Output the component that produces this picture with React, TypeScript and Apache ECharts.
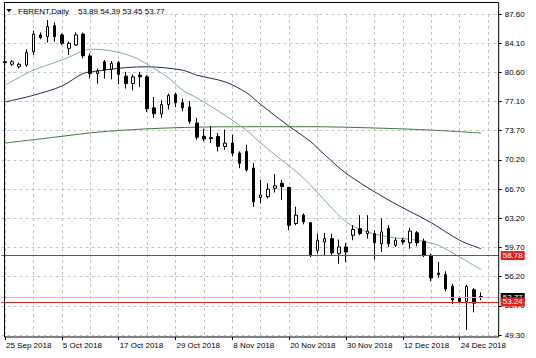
import React, { useEffect, useRef } from "react";
import * as echarts from "echarts";

const dates = [
  "25 Sep 2018", "26 Sep 2018", "27 Sep 2018", "28 Sep 2018", "1 Oct 2018", "2 Oct 2018", "3 Oct 2018", "4 Oct 2018",
  "5 Oct 2018", "8 Oct 2018", "9 Oct 2018", "10 Oct 2018", "11 Oct 2018", "12 Oct 2018", "15 Oct 2018", "16 Oct 2018",
  "17 Oct 2018", "18 Oct 2018", "19 Oct 2018", "22 Oct 2018", "23 Oct 2018", "24 Oct 2018", "25 Oct 2018", "26 Oct 2018",
  "29 Oct 2018", "30 Oct 2018", "31 Oct 2018", "1 Nov 2018", "2 Nov 2018", "5 Nov 2018", "6 Nov 2018", "7 Nov 2018",
  "8 Nov 2018", "9 Nov 2018", "12 Nov 2018", "13 Nov 2018", "14 Nov 2018", "15 Nov 2018", "16 Nov 2018", "19 Nov 2018",
  "20 Nov 2018", "21 Nov 2018", "22 Nov 2018", "23 Nov 2018", "26 Nov 2018", "27 Nov 2018", "28 Nov 2018", "29 Nov 2018",
  "30 Nov 2018", "3 Dec 2018", "4 Dec 2018", "5 Dec 2018", "6 Dec 2018", "7 Dec 2018", "10 Dec 2018", "11 Dec 2018",
  "12 Dec 2018", "13 Dec 2018", "14 Dec 2018", "17 Dec 2018", "18 Dec 2018", "19 Dec 2018", "20 Dec 2018", "21 Dec 2018",
  "24 Dec 2018", "26 Dec 2018", "27 Dec 2018", "28 Dec 2018",
];

const opens = [
  81.9, 81.6, 81.3, 81.5, 83.1, 85.1, 84.9, 86.2, 85.1, 83.5, 83.9, 85.2, 82.6, 80.5, 81.9, 81.0,
  81.8, 80.2, 79.3, 80.3, 80.1, 76.4, 75.7, 76.8, 78.0, 77.0, 76.5, 74.6, 73.0, 72.85, 73.0, 71.8,
  72.2, 71.0, 71.2, 69.2, 65.7, 65.8, 66.8, 67.4, 66.9, 62.6, 63.6, 62.7, 59.4, 60.4, 60.8, 59.0,
  59.8, 61.2, 62.0, 61.4, 61.4, 60.2, 62.0, 60.0, 60.6, 60.3, 61.5, 60.5, 58.8, 56.7, 56.5, 55.1,
  53.7, 53.3, 54.7, 53.89,
];
const highs = [
  82.3, 82.1, 81.8, 83.4, 85.6, 85.4, 86.9, 86.6, 85.3, 84.3, 85.4, 85.4, 82.9, 81.1, 82.1, 82.0,
  82.0, 80.7, 80.4, 80.7, 80.3, 77.7, 77.3, 78.1, 78.2, 77.5, 77.2, 75.2, 73.9, 74.2, 73.4, 73.8,
  73.2, 71.2, 72.0, 69.8, 67.8, 67.4, 68.5, 67.8, 67.0, 64.6, 63.8, 62.8, 61.4, 61.5, 61.4, 60.7,
  60.3, 62.4, 63.6, 63.6, 61.8, 63.2, 62.4, 60.9, 60.9, 62.1, 61.7, 60.8, 59.0, 58.0, 56.9, 55.4,
  53.9, 55.3, 54.9, 54.39,
];
const lows = [
  81.4, 81.4, 81.1, 81.3, 82.7, 84.6, 84.2, 84.3, 83.9, 82.7, 83.8, 82.3, 79.9, 79.3, 79.9, 79.8,
  79.2, 78.7, 78.5, 78.9, 75.9, 75.2, 75.2, 76.2, 76.5, 76.0, 74.5, 72.6, 72.4, 72.2, 71.2, 71.4,
  70.6, 69.2, 68.8, 64.6, 65.0, 65.6, 66.3, 65.4, 61.8, 62.4, 62.5, 58.6, 59.0, 58.8, 58.8, 57.8,
  58.0, 60.6, 61.2, 60.8, 58.3, 59.2, 59.8, 59.8, 60.1, 59.6, 59.9, 58.6, 55.7, 56.1, 54.5, 53.0,
  53.1, 49.9, 52.0, 53.45,
];
const closes = [
  81.8, 81.9, 81.6, 83.0, 85.2, 84.8, 86.1, 84.9, 84.1, 84.1, 85.1, 82.6, 80.5, 80.8, 80.9, 81.7,
  80.4, 79.3, 80.1, 80.1, 76.3, 75.7, 76.8, 77.9, 77.0, 76.4, 74.8, 72.9, 72.7, 72.75, 71.8, 72.2,
  71.0, 69.8, 69.0, 65.2, 66.0, 66.7, 67.1, 67.0, 62.4, 63.6, 62.8, 58.8, 60.6, 60.8, 59.1, 59.8,
  59.2, 61.9, 61.4, 61.7, 60.3, 61.6, 60.2, 60.6, 60.4, 61.7, 60.3, 58.8, 56.1, 56.5, 54.8, 53.5,
  53.3, 55.1, 53.1, 53.77,
];

// moving averages at selected bars
const fastMaBars = [0, 4, 8, 11, 12, 15, 18, 20, 23, 25, 27, 31, 34, 36, 38, 41, 43, 48, 51, 54, 58, 61, 64, 67];
const fastMaValues = [79.1, 80.9, 82.1, 83.2, 83.4, 83.2, 82.5, 81.6, 80.0, 78.5, 77.6, 75.5, 73.7, 72.2, 70.8, 68.8, 67.2, 62.8, 61.6, 61.0, 60.6, 60.0, 58.6, 57.1];
const slowMaBars = [0, 4, 8, 11, 13, 17, 20, 25, 27, 31, 34, 36, 40, 43, 44, 48, 54, 60, 64, 67];
const slowMaValues = [77.1, 77.9, 79.0, 80.5, 80.8, 81.2, 81.3, 80.9, 80.3, 79.5, 78.2, 76.8, 74.2, 72.4, 71.6, 68.6, 65.4, 62.7, 60.6, 59.6];
const trendMaBars = [0, 7, 13, 20, 27, 34, 43, 52, 60, 67];
const trendMaValues = [72.2, 72.9, 73.5, 73.9, 74.1, 74.15, 74.15, 74.0, 73.75, 73.4];

const yTickLabels = ["49.30", "52.70", "56.20", "59.70", "63.20", "66.70", "70.20", "73.70", "77.10", "80.60", "84.10", "87.60"];
const yMin = 49.3;
const yMax = 87.6;

const levelLines = [58.78, 53.24];
const bidPrice = 53.77;
const symbolName = "FBRENT,Daily";
const rightShiftBars = 2;

const FONT = '"Liberation Sans", Arial, sans-serif';

export default function App() {
  const ref = useRef<HTMLDivElement>(null);

  useEffect(() => {
    const chart = echarts.init(ref.current!, null, { renderer: "svg" });
    const cats = [...dates, ...Array(rightShiftBars).fill("")];
    const fineCats: string[] = [];
    for (let j = 0; j <= 2 * cats.length; j++) fineCats.push(j % 2 === 1 ? cats[(j - 1) / 2] : "");
    const sparse = (bars: number[], vals: number[]) => {
      const arr: (number | null)[] = new Array(cats.length).fill(null);
      bars.forEach((b, i) => (arr[b] = vals[i]));
      return arr;
    };
    const empty = new Array(cats.length).fill(null);
    const step = (yMax - yMin) / (yTickLabels.length - 1);
    const last = dates.length - 1;
    const ohlcText = [opens[last], highs[last], lows[last], closes[last]].map((v) => v.toFixed(2)).join(" ");
    const nBars = dates.length;

    const maLine = (data: (number | null)[], color: string) => ({
      type: "line",
      data,
      connectNulls: true,
      smooth: 0.3,
      symbol: "none",
      silent: true,
      lineStyle: { color, width: 1 },
      z: 1,
    });

    const priceLine = (values: number[], lineColor: string, boxColor: string, z: number) => ({
      type: "line",
      data: empty,
      symbol: "none",
      silent: true,
      z,
      lineStyle: { width: 0 },
      markLine: {
        silent: true,
        symbol: ["none", "none"],
        animation: false,
        lineStyle: { color: lineColor, type: "solid", width: 1 },
        label: {
          show: true,
          position: "end",
          distance: 2,
          fontSize: 8,
          fontFamily: FONT,
          color: "#fff",
          backgroundColor: boxColor,
          padding: [1, 2, 0, 2],
          formatter: (p: any) => Number(p.value).toFixed(2),
        },
        data: values.map((v) => ({ yAxis: v })),
      },
    });

    chart.setOption({
      animation: false,
      backgroundColor: "#ffffff",
      textStyle: { fontFamily: FONT },
      grid: { left: 1.45, right: 37.3, top: 14, bottom: 23 },
      xAxis: [
        {
          type: "category",
          data: cats,
          boundaryGap: true,
          axisLine: { show: false },
          axisTick: { show: false },
          axisLabel: { show: false },
          splitLine: { show: false },
        },
        {
          type: "category",
          data: fineCats,
          boundaryGap: false,
          position: "bottom",
          offset: 2,
          axisLine: { show: false },
          axisTick: {
            show: true,
            interval: (j: number) => j % 16 === 1 && (j - 1) / 2 < nBars,
            length: 3,
            lineStyle: { color: "#000" },
          },
          axisLabel: {
            interval: (j: number) => j % 16 === 1 && (j - 1) / 2 < nBars,
            align: "left",
            fontSize: 8,
            fontFamily: FONT,
            color: "#000",
            margin: 4,
            padding: [0, 0, 0, 1],
          },
          splitLine: {
            show: true,
            interval: (j: number) => j % 8 === 1,
            lineStyle: { color: "#c4c4c4", type: [3, 3], width: 1 },
          },
        },
      ],
      yAxis: {
        type: "value",
        position: "right",
        min: yMin,
        max: yMax,
        interval: step,
        axisLine: { show: false },
        axisTick: { show: true, length: 3, lineStyle: { color: "#000" } },
        axisLabel: {
          margin: 6,
          fontSize: 8,
          fontFamily: FONT,
          color: "#000",
          formatter: (v: number) => yTickLabels[Math.round((v - yMin) / step)] ?? "",
        },
        splitLine: { show: true, lineStyle: { color: "#c4c4c4", type: [3, 3], width: 1 } },
      },
      graphic: [
        {
          type: "rect",
          shape: { x: 4.5, y: 2.5, width: 494.2, height: 334.5 },
          style: { fill: "none", stroke: "#000", lineWidth: 1 },
          silent: true,
          z: 10,
        },
        {
          type: "polygon",
          shape: { points: [[6.5, 9], [11.5, 9], [9, 12.5]] },
          style: { fill: "#000" },
          silent: true,
        },
        {
          type: "text",
          x: 18,
          y: 11,
          style: { text: symbolName, fontSize: 8, fontFamily: FONT, fill: "#000", verticalAlign: "middle" },
          silent: true,
        },
        {
          type: "text",
          x: 78,
          y: 11,
          style: { text: ohlcText, fontSize: 8, fontFamily: FONT, fill: "#000", verticalAlign: "middle" },
          silent: true,
        },
      ],
      series: [
        maLine(sparse(trendMaBars, trendMaValues), "#3c7a3c"),
        maLine(sparse(slowMaBars, slowMaValues), "#262655"),
        maLine(sparse(fastMaBars, fastMaValues), "#7fab9f"),
        priceLine([bidPrice], "#c0c0c0", "#000000", 2),
        {
          type: "candlestick",
          data: dates.map((_, i) => [opens[i], closes[i], lows[i], highs[i]]),
          barWidth: 3,
          silent: true,
          z: 3,
          itemStyle: {
            color: "#ffffff",
            color0: "#000000",
            borderColor: "#000000",
            borderColor0: "#000000",
            borderWidth: 1,
          },
        },
        priceLine(levelLines, "#d22a24", "#e3221d", 4),
      ],
    });
    return () => chart.dispose();
  }, []);

  return (
    <div
      ref={ref}
      style={{ position: "fixed", left: 0, top: 0, width: 536, height: 358, background: "#fff" }}
    />
  );
}
